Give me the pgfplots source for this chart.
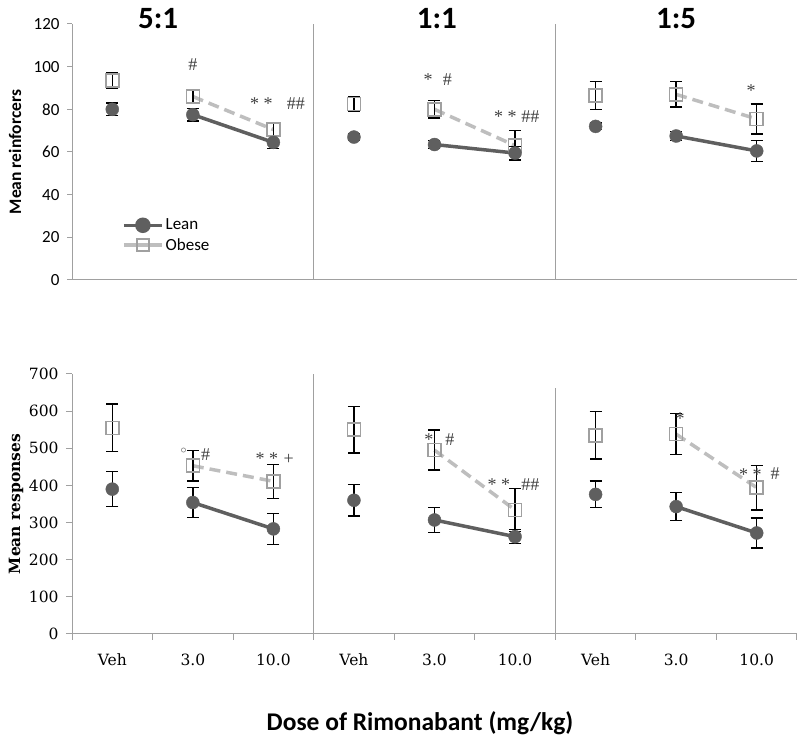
\documentclass[border=0pt]{standalone}
\usepackage{fontspec}
\usepackage{pgfplots}
\pgfplotsset{compat=1.18}
\newfontfamily\carlito{Carlito}
\newfontfamily\dvserif{DejaVu Serif}
\newfontfamily\libserif{Liberation Serif}
\definecolor{axgray}{HTML}{A0A0A0}
\definecolor{leancol}{HTML}{5F5F5F}
\definecolor{obesecol}{HTML}{BEBEBE}
\definecolor{obesemk}{HTML}{A0A0A0}
\definecolor{annot}{HTML}{404040}
\pgfplotsset{
 leanlinestyle/.style={leancol, line width=3.5bp, mark=none, forget plot},
 obeselinestyle/.style={obesecol, line width=3.5bp, dash pattern=on 11bp off 6bp, mark=none, forget plot},
 leanmarkstyle/.style={only marks, forget plot, mark=*, mark size=6.5bp, mark options={fill=leancol, draw=leancol, solid}},
 obesemarkstyle/.style={only marks, forget plot, mark=square, mark size=6.5bp, mark options={draw=obesemk, line width=1.5bp, fill=none, solid}},
 errstyle/.style={draw=none, mark=none, forget plot, error bars/.cd, y dir=both, y explicit,
   error bar style={draw=black, line width=1.4bp, solid},
   error mark options={draw=black, line width=1.4bp, mark size=6bp, rotate=90}},
 commonstyle/.style={
   width=725bp, scale only axis,
   xmin=-0.5, xmax=8.5,
   axis x line=bottom, axis y line=left,
   axis line style={axgray, line width=1bp, -},
   tick style={axgray, line width=1bp}, tick align=outside, major tick length=5bp,
   /pgf/number format/assume math mode=true,
   every axis y label/.style={at={(axis description cs:0,0.5)}, rotate=90, anchor=center},
   clip=false, unbounded coords=jump,
 },
}
\tikzset{ann/.style={font=\libserif\fontsize{18bp}{21bp}\selectfont, text=annot, anchor=base, inner sep=0pt}}
\begin{document}
\begin{tikzpicture}
\path[use as bounding box] (0,0) rectangle (800bp,745bp);
% ---------- top ----------
\begin{axis}[commonstyle,
 at={(72bp,465bp)}, anchor=south west, height=256bp,
 ymin=0, ymax=120, xtick=\empty, ytick={0,20,...,120},
 yticklabel style={font=\carlito\fontsize{17bp}{19bp}\selectfont, xshift=-4bp},
 ylabel={Mean reinforcers},
 ylabel style={font=\carlito\bfseries\fontsize{17.5bp}{20bp}\selectfont, yshift=57bp},
 legend style={draw=none, fill=none, inner sep=0pt, at={(axis cs:0.12,20.9)}, anchor=west,
   font=\carlito\fontsize{17bp}{19bp}\selectfont, row sep=3bp},
 legend cell align=left,
 legend image code/.code={\draw[mark repeat=2,mark phase=2,#1] plot coordinates {(0bp,0bp) (19bp,0bp) (38bp,0bp)};},
]
\addlegendimage{leancol, line width=3.5bp, mark=*, mark size=6bp, mark options={fill=leancol, draw=leancol, solid}}
\addlegendentry{Lean}
\addlegendimage{obesecol, line width=3.5bp, mark=square, mark size=6bp, mark options={draw=obesemk, line width=1.5bp, fill=none, solid}}
\addlegendentry{Obese}
\draw[axgray, line width=1bp] (axis cs:2.5,0) -- (axis cs:2.5,120);
\draw[axgray, line width=1bp] (axis cs:5.5,0) -- (axis cs:5.5,120);
% obese
\addplot[obeselinestyle] coordinates {(1,86) (2,70.5) (3,nan) (4,80) (5,63) (6,nan) (7,87) (8,75.5)};
\addplot[errstyle] coordinates {(0,93.5) +- (0,3.5) (1,86) +- (0,3) (2,70.5) +- (0,3) (3,82.5) +- (0,3.5) (4,80) +- (0,4) (5,63) +- (0,7) (6,86.5) +- (0,6.5) (7,87) +- (0,6) (8,75.5) +- (0,7)};
\addplot[obesemarkstyle] coordinates {(0,93.5) (1,86) (2,70.5) (3,82.5) (4,80) (5,63) (6,86.5) (7,87) (8,75.5)};
% lean
\addplot[leanlinestyle] coordinates {(1,77.5) (2,64.5) (3,nan) (4,63.5) (5,59.5) (6,nan) (7,67.5) (8,60.5)};
\addplot[errstyle] coordinates {(0,80) +- (0,3) (1,77.5) +- (0,3) (2,64.5) +- (0,3) (3,67) +- (0,1.5) (4,63.5) +- (0,2) (5,59.5) +- (0,3) (6,72) +- (0,1.5) (7,67.5) +- (0,2) (8,60.5) +- (0,5)};
\addplot[leanmarkstyle] coordinates {(0,80) (1,77.5) (2,64.5) (3,67) (4,63.5) (5,59.5) (6,72) (7,67.5) (8,60.5)};
% titles
\node[font=\carlito\bfseries\fontsize{31bp}{36bp}\selectfont, anchor=base, inner sep=0pt] at (axis cs:0.57,117.7) {5:1};
\node[font=\carlito\bfseries\fontsize{31bp}{36bp}\selectfont, anchor=base, inner sep=0pt] at (axis cs:4.03,117.7) {1:1};
\node[font=\carlito\bfseries\fontsize{31bp}{36bp}\selectfont, anchor=base, inner sep=0pt] at (axis cs:7.0,117.7) {1:5};
% annotations
\node[ann] at (axis cs:1.0,98.4) {\#};
\node[ann] at (axis cs:1.85,79.7) {* *};
\node[ann] at (axis cs:2.28,79.7) {\#\#};
\node[ann] at (axis cs:3.92,91.4) {*};
\node[ann] at (axis cs:4.16,91.4) {\#};
\node[ann] at (axis cs:4.88,74) {* *};
\node[ann] at (axis cs:5.19,74) {\#\#};
\node[ann] at (axis cs:7.93,85.8) {*};
\end{axis}
% ---------- bottom ----------
\begin{axis}[commonstyle,
 at={(72bp,111bp)}, anchor=south west, height=260bp,
 ymin=0, ymax=700, ytick={0,100,...,700},
 xtick={-0.5,0.5,...,8.5}, xticklabels={},
 extra x ticks={0,1,2,3,4,5,6,7,8},
 extra x tick labels={Veh,3.0,10.0,Veh,3.0,10.0,Veh,3.0,10.0},
 extra x tick style={major tick length=0pt, xticklabel style={anchor=base, yshift=-32bp}},
 major tick length=6bp,
 ticklabel style={font=\dvserif\fontsize{15.5bp}{18bp}\selectfont},
 yticklabel style={xshift=-4bp},
 ylabel={Mean responses},
 ylabel style={font=\dvserif\bfseries\fontsize{15.5bp}{18bp}\selectfont, yshift=56bp},
]
\draw[axgray, line width=1bp] (axis cs:2.5,0) -- (axis cs:2.5,700);
\draw[axgray, line width=1bp] (axis cs:5.5,0) -- (axis cs:5.5,662);
% obese
\addplot[obeselinestyle] coordinates {(1,453) (2,411) (3,nan) (4,495) (5,334) (6,nan) (7,538) (8,394)};
\addplot[errstyle] coordinates {(0,555) +- (0,64) (1,453) +- (0,41) (2,411) +- (0,46) (3,550) +- (0,63) (4,495) +- (0,54) (5,334) +- (0,58) (6,535) +- (0,64) (7,538) +- (0,55) (8,394) +- (0,60)};
\addplot[obesemarkstyle] coordinates {(0,555) (1,453) (2,411) (3,550) (4,495) (5,334) (6,535) (7,538) (8,394)};
% lean
\addplot[leanlinestyle] coordinates {(1,354) (2,283) (3,nan) (4,307) (5,262) (6,nan) (7,343) (8,272)};
\addplot[errstyle] coordinates {(0,390) +- (0,47) (1,354) +- (0,41) (2,283) +- (0,42) (3,360) +- (0,42) (4,307) +- (0,34) (5,262) +- (0,19) (6,376) +- (0,36) (7,343) +- (0,38) (8,272) +- (0,40)};
\addplot[leanmarkstyle] coordinates {(0,390) (1,354) (2,283) (3,360) (4,307) (5,262) (6,376) (7,343) (8,272)};
% annotations
\node[ann] at (axis cs:0.89,468) {$^\circ$};
\node[ann] at (axis cs:1.16,468) {\#};
\node[ann] at (axis cs:1.92,455) {* *};
\node[ann] at (axis cs:2.19,455) {+};
\node[ann] at (axis cs:3.93,508) {*};
\node[ann] at (axis cs:4.19,508) {\#};
\node[ann] at (axis cs:4.80,385) {* *};
\node[ann] at (axis cs:5.19,385) {\#\#};
\node[ann] at (axis cs:7.05,565) {*};
\node[ann] at (axis cs:7.92,412) {* *};
\node[ann] at (axis cs:8.23,415) {\#};
\end{axis}
\node[anchor=base, inner sep=0pt, font=\carlito\bfseries\fontsize{25.5bp}{30bp}\selectfont] at (420bp,15bp) {Dose of Rimonabant (mg/kg)};
\end{tikzpicture}
\end{document}
